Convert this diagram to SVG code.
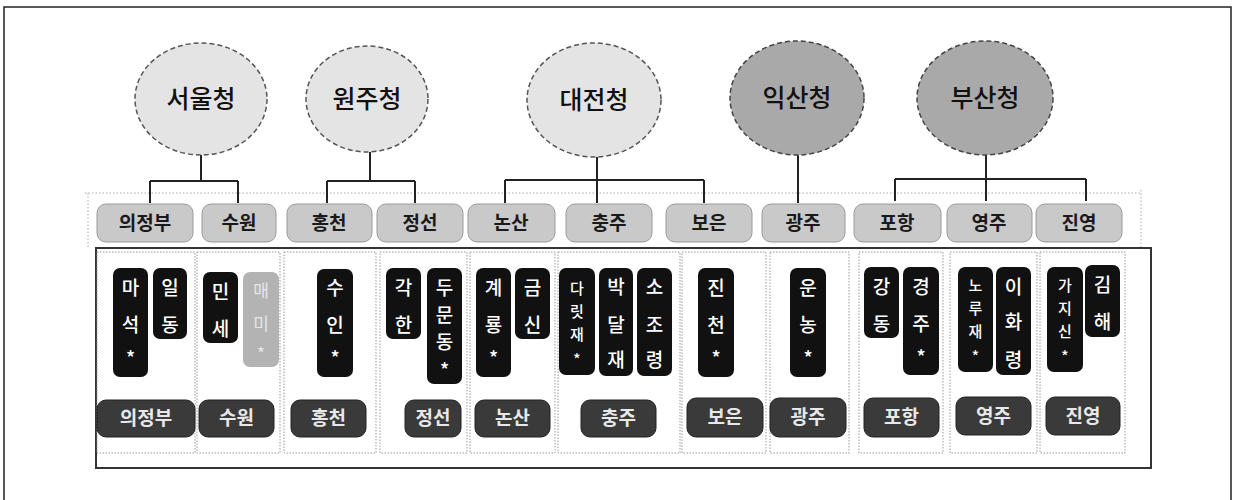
<svg xmlns="http://www.w3.org/2000/svg" width="1238" height="500" viewBox="0 0 1238 500">
<style>
text{font-family:"Noto Sans CJK KR","Noto Sans",sans-serif;text-anchor:middle;}
.ellL{fill:#e4e4e4;stroke:#555;stroke-width:1.5;stroke-dasharray:5 3;}
.ellD{fill:#a9a9a9;stroke:#444;stroke-width:1.5;stroke-dasharray:5 3;}
.et{font-size:25px;fill:#111;font-weight:500;}
.top{fill:#c9c9c9;stroke:#9a9a9a;stroke-width:1;}
.tt{font-size:19px;fill:#1a1a1a;font-weight:700;}
.bot{fill:#3a3a3a;stroke:#222;stroke-width:1;}
.bt{font-size:19px;fill:#e8e8e8;font-weight:700;}
.blk{fill:#111;}
.fade{fill:#b3b3b3;}
.ct{font-size:19px;fill:#fff;font-weight:500;}
.cs{font-size:15px;fill:#fff;font-weight:500;}
.ft{font-size:17px;fill:#e6e6e6;}
.col{fill:none;stroke:#999;stroke-width:1;stroke-dasharray:1.5 1.5;}
.dot{fill:none;stroke:#aaa;stroke-width:1;stroke-dasharray:1.5 2;}
.conn{fill:none;stroke:#222;stroke-width:2;}
</style>
<rect width="1238" height="500" fill="#fff"/>
<rect x="4" y="7" width="1227" height="500" fill="none" stroke="#222" stroke-width="1.5"/>
<path class="dot" d="M85 193H1140M88 193V248M1141 190V375"/>
<rect x="96" y="248" width="1055" height="220" fill="#fff" stroke="#333" stroke-width="2"/>
<g id="columns">
<rect class="col" x="97" y="252" width="98" height="201"/>
<rect class="col" x="197" y="252" width="83" height="201"/>
<rect class="col" x="284" y="252" width="92" height="201"/>
<rect class="col" x="380" y="252" width="87" height="201"/>
<rect class="col" x="470" y="252" width="85" height="201"/>
<rect class="col" x="558" y="252" width="122" height="201"/>
<rect class="col" x="682" y="252" width="84" height="201"/>
<rect class="col" x="770" y="252" width="79" height="201"/>
<rect class="col" x="859" y="252" width="84" height="201"/>
<rect class="col" x="950" y="252" width="87" height="201"/>
<rect class="col" x="1040" y="252" width="85" height="201"/>
</g>
<g id="connectors">
<path class="conn" d="M201 155V181M150 181H238M150 181V203M238 181V203"/>
<path class="conn" d="M370 152V181M327 181H415M327 181V203M415 181V203"/>
<path class="conn" d="M597 157V180M505 180H704M505 180V203M597 180V203M704 180V203"/>
<path class="conn" d="M798 155V203"/>
<path class="conn" d="M986 155V179M895 179H1086M895 179V201M986 179V201M1086 179V201"/>
</g>
<g id="seoul"><ellipse class="ellL" cx="201" cy="99" rx="66" ry="56"/><text class="et" x="201" y="108">서울청</text></g>
<g id="wonju"><ellipse class="ellL" cx="367" cy="99" rx="61" ry="53"/><text class="et" x="367" y="108">원주청</text></g>
<g id="daejeon"><ellipse class="ellL" cx="594" cy="100" rx="67" ry="57"/><text class="et" x="594" y="109">대전청</text></g>
<g id="iksan"><ellipse class="ellD" cx="797" cy="98" rx="67" ry="57"/><text class="et" x="797" y="107">익산청</text></g>
<g id="busan"><ellipse class="ellD" cx="985" cy="98" rx="68" ry="57"/><text class="et" x="985" y="107">부산청</text></g>
<g id="top-uijeongbu"><rect class="top" x="97" y="204" width="96" height="38" rx="9"/><text class="tt" x="145" y="230">의정부</text></g>
<g id="top-suwon"><rect class="top" x="202" y="204" width="74" height="38" rx="9"/><text class="tt" x="239" y="230">수원</text></g>
<g id="top-hongcheon"><rect class="top" x="287" y="204" width="85" height="38" rx="9"/><text class="tt" x="329" y="230">홍천</text></g>
<g id="top-jeongseon"><rect class="top" x="377" y="204" width="86" height="38" rx="9"/><text class="tt" x="420" y="230">정선</text></g>
<g id="top-nonsan"><rect class="top" x="468" y="204" width="87" height="38" rx="9"/><text class="tt" x="511" y="230">논산</text></g>
<g id="top-chungju"><rect class="top" x="566" y="204" width="86" height="38" rx="9"/><text class="tt" x="609" y="230">충주</text></g>
<g id="top-boeun"><rect class="top" x="666" y="204" width="86" height="38" rx="9"/><text class="tt" x="709" y="230">보은</text></g>
<g id="top-gwangju"><rect class="top" x="762" y="204" width="83" height="38" rx="9"/><text class="tt" x="803" y="230">광주</text></g>
<g id="top-pohang"><rect class="top" x="854" y="204" width="87" height="38" rx="9"/><text class="tt" x="897" y="230">포항</text></g>
<g id="top-yeongju"><rect class="top" x="947" y="204" width="85" height="38" rx="9"/><text class="tt" x="989" y="230">영주</text></g>
<g id="top-jinyeong"><rect class="top" x="1036" y="204" width="86" height="38" rx="9"/><text class="tt" x="1079" y="230">진영</text></g>
<g id="b-maseok"><rect class="blk" x="113" y="268" width="35" height="109" rx="7"/><text class="ct" x="130.5" y="295">마<tspan x="130.5" dy="37">석</tspan><tspan x="130.5" dy="33">*</tspan></text></g>
<g id="b-ildong"><rect class="blk" x="153" y="268" width="34" height="71" rx="7"/><text class="ct" x="170" y="295">일<tspan x="170" dy="37">동</tspan></text></g>
<g id="b-minse"><rect class="blk" x="203" y="272" width="35" height="71" rx="7"/><text class="ct" x="220.5" y="299">민<tspan x="220.5" dy="37">세</tspan></text></g>
<g id="b-faded"><rect class="fade" x="243" y="272" width="36" height="95" rx="7"/><text class="ft" x="261" y="297">매<tspan x="261" dy="33">미</tspan><tspan x="261" dy="30">*</tspan></text></g>
<g id="b-suin"><rect class="blk" x="317" y="269" width="36" height="108" rx="7"/><text class="ct" x="335" y="295">수<tspan x="335" dy="37">인</tspan><tspan x="335" dy="33">*</tspan></text></g>
<g id="b-gakhan"><rect class="blk" x="386" y="268" width="35" height="71" rx="7"/><text class="ct" x="403.5" y="295">각<tspan x="403.5" dy="37">한</tspan></text></g>
<g id="b-dumundong"><rect class="blk" x="427" y="268" width="35" height="116" rx="7"/><text class="ct" x="444.5" y="295">두<tspan x="444.5" dy="27">문</tspan><tspan x="444.5" dy="27">동</tspan><tspan x="444.5" dy="28">*</tspan></text></g>
<g id="b-gyeryong"><rect class="blk" x="476" y="268" width="35" height="109" rx="7"/><text class="ct" x="493.5" y="295">계<tspan x="493.5" dy="37">룡</tspan><tspan x="493.5" dy="33">*</tspan></text></g>
<g id="b-geumsin"><rect class="blk" x="515" y="268" width="35" height="71" rx="7"/><text class="ct" x="532.5" y="295">금<tspan x="532.5" dy="37">신</tspan></text></g>
<g id="b-darit"><rect class="blk" x="559" y="268" width="36" height="107" rx="7"/><text class="cs" x="577" y="294">다<tspan x="577" dy="23">릿</tspan><tspan x="577" dy="23">재</tspan><tspan x="577" dy="25">*</tspan></text></g>
<g id="b-bakdal"><rect class="blk" x="599" y="268" width="34" height="108" rx="7"/><text class="ct" x="616" y="294">박<tspan x="616" dy="38">달</tspan><tspan x="616" dy="35">재</tspan></text></g>
<g id="b-sojo"><rect class="blk" x="637" y="268" width="35" height="108" rx="7"/><text class="ct" x="654.5" y="294">소<tspan x="654.5" dy="38">조</tspan><tspan x="654.5" dy="35">령</tspan></text></g>
<g id="b-jincheon"><rect class="blk" x="698" y="268" width="36" height="109" rx="7"/><text class="ct" x="716" y="295">진<tspan x="716" dy="37">천</tspan><tspan x="716" dy="33">*</tspan></text></g>
<g id="b-unnong"><rect class="blk" x="790" y="268" width="36" height="109" rx="7"/><text class="ct" x="808" y="295">운<tspan x="808" dy="37">농</tspan><tspan x="808" dy="33">*</tspan></text></g>
<g id="b-gangdong"><rect class="blk" x="864" y="267" width="35" height="71" rx="7"/><text class="ct" x="881.5" y="294">강<tspan x="881.5" dy="37">동</tspan></text></g>
<g id="b-gyeongju"><rect class="blk" x="903" y="267" width="36" height="108" rx="7"/><text class="ct" x="921" y="294">경<tspan x="921" dy="37">주</tspan><tspan x="921" dy="33">*</tspan></text></g>
<g id="b-norujae"><rect class="blk" x="958" y="267" width="35" height="105" rx="7"/><text class="cs" x="975.5" y="291">노<tspan x="975.5" dy="23">루</tspan><tspan x="975.5" dy="23">재</tspan><tspan x="975.5" dy="25">*</tspan></text></g>
<g id="b-ihwa"><rect class="blk" x="996" y="267" width="35" height="108" rx="7"/><text class="ct" x="1013.5" y="294">이<tspan x="1013.5" dy="35">화</tspan><tspan x="1013.5" dy="38">령</tspan></text></g>
<g id="b-gajisin"><rect class="blk" x="1047" y="267" width="36" height="105" rx="7"/><text class="cs" x="1065" y="291">가<tspan x="1065" dy="23">지</tspan><tspan x="1065" dy="23">신</tspan><tspan x="1065" dy="25">*</tspan></text></g>
<g id="b-gimhae"><rect class="blk" x="1085" y="265" width="35" height="72" rx="7"/><text class="ct" x="1102.5" y="292">김<tspan x="1102.5" dy="37">해</tspan></text></g>
<g id="bot-uijeongbu"><rect class="bot" x="97" y="400" width="98" height="37" rx="9"/><text class="bt" x="146" y="425">의정부</text></g>
<g id="bot-suwon"><rect class="bot" x="199" y="400" width="75" height="37" rx="9"/><text class="bt" x="236.5" y="425">수원</text></g>
<g id="bot-hongcheon"><rect class="bot" x="291" y="400" width="75" height="37" rx="9"/><text class="bt" x="328.5" y="425">홍천</text></g>
<g id="bot-jeongseon"><rect class="bot" x="405" y="400" width="56" height="37" rx="9"/><text class="bt" x="433" y="425">정선</text></g>
<g id="bot-nonsan"><rect class="bot" x="475" y="400" width="75" height="37" rx="9"/><text class="bt" x="512.5" y="425">논산</text></g>
<g id="bot-chungju"><rect class="bot" x="581" y="400" width="75" height="37" rx="9"/><text class="bt" x="618.5" y="425">충주</text></g>
<g id="bot-boeun"><rect class="bot" x="687" y="398" width="76" height="39" rx="9"/><text class="bt" x="725" y="424">보은</text></g>
<g id="bot-gwangju"><rect class="bot" x="770" y="398" width="76" height="39" rx="9"/><text class="bt" x="808" y="424">광주</text></g>
<g id="bot-pohang"><rect class="bot" x="864" y="398" width="75" height="39" rx="9"/><text class="bt" x="901.5" y="424">포항</text></g>
<g id="bot-yeongju"><rect class="bot" x="956" y="397" width="75" height="38" rx="9"/><text class="bt" x="993.5" y="423">영주</text></g>
<g id="bot-jinyeong"><rect class="bot" x="1046" y="397" width="74" height="38" rx="9"/><text class="bt" x="1083" y="423">진영</text></g>
</svg>
